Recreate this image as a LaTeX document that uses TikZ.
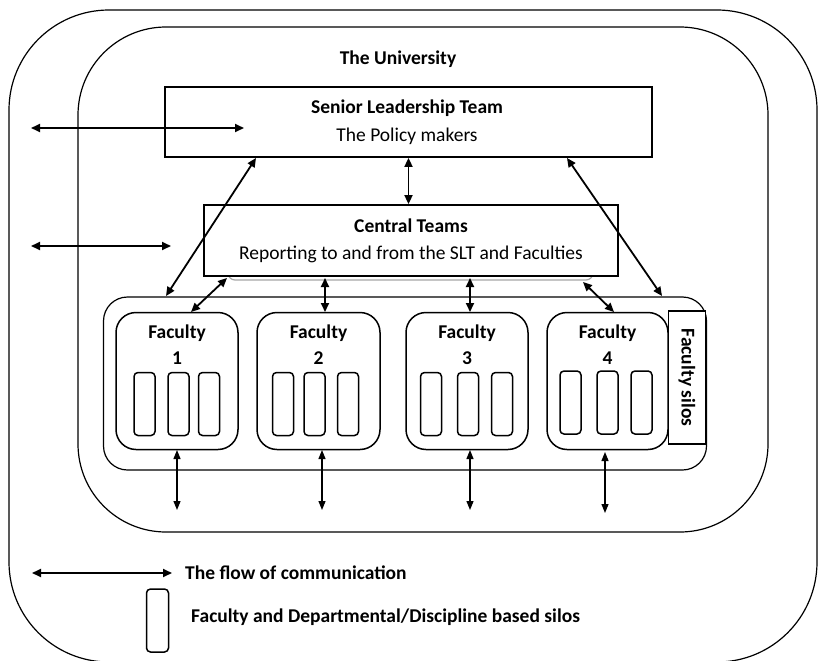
\documentclass[tikz,border=0pt]{standalone}
\usepackage{fontspec}
\setmainfont{Carlito}
\usetikzlibrary{arrows.meta}
\begin{document}
\begin{tikzpicture}[x=1pt,y=-1pt,
  every node/.style={font=\fontsize{19.5}{23}\selectfont},
  txt/.style={inner sep=0pt,anchor=base},
  lbl/.style={txt,font=\fontsize{19.5}{23}\selectfont\bfseries},
  frame/.style={draw,line width=1.2pt},
  teambox/.style={draw,line width=1.8pt,fill=white,inner sep=0pt},
  facbox/.style={draw,line width=1.5pt,rounded corners=20pt,minimum height=137pt,inner sep=0pt},
  silo/.style={draw,line width=1.5pt,rounded corners=4pt,minimum width=21pt,minimum height=63pt,inner sep=0pt},
  flow/.style={line width=1.8pt,{Triangle[length=9pt,width=8pt]}-{Triangle[length=9pt,width=8pt]}},
  thinflow/.style={line width=1.2pt,{Triangle[length=9pt,width=7pt]}-{Triangle[length=9pt,width=7pt]}}]
\useasboundingbox (0,0) rectangle (819,661);

% university boundaries
\draw[frame,rounded corners=100pt] (9,10) rectangle (817,662);
\draw[frame,rounded corners=88pt] (78,27) rectangle (768,532);
\node[lbl] (uni) at (398,65) {The University};

% senior leadership team
\node[teambox,minimum width=487pt,minimum height=70pt] (slt) at (408.5,122) {};
\node[lbl] (sltT) at (407,113.5) {Senior Leadership Team};
\node[txt] (sltS) at (407,141) {The Policy makers};

% central teams with its soft under-edge
\draw[gray!70,line width=1.2pt,rounded corners=7pt,fill=white] (228,262) rectangle (593,280);
\node[teambox,minimum width=414pt,minimum height=71pt] (ct) at (411,240.5) {};
\node[lbl] (ctT) at (411,232) {Central Teams};
\node[txt] (ctS) at (411,259) {Reporting to and from the SLT and Faculties};

% faculty container
\node[frame,rounded corners=24pt,minimum width=603pt,minimum height=173pt,inner sep=0pt] (cont) at (405,383.5) {};

% faculties
\node[facbox,minimum width=122pt] (fac1) at (177,381) {};
\node[facbox,minimum width=123pt] (fac2) at (318.5,381) {};
\node[facbox,minimum width=122pt] (fac3) at (467,381) {};
\node[facbox,minimum width=121pt] (fac4) at (607.5,381) {};
\foreach \n/\cx in {1/177,2/318.5,3/467,4/607.5}{
  \node[lbl] (facT\n) at (\cx,338) {Faculty};
  \node[lbl] (facN\n) at (\cx,364) {\n};
}

% departmental silos
\foreach \n/\a/\b/\c/\cy in {1/144.5/178.5/209/404,2/283/314.5/348/404,3/431/468/502/404,4/570.5/607.5/641.5/402.5}{
  \node[silo] (s\n a) at (\a,\cy) {};
  \node[silo] (s\n b) at (\b,\cy) {};
  \node[silo] (s\n c) at (\c,\cy) {};
}

% faculty silos label
\node[frame,fill=white,minimum width=133pt,minimum height=37pt,inner sep=0pt,rotate=-90,font=\fontsize{19.5}{23}\selectfont\bfseries] (fsil) at (687,377.5) {Faculty silos};

% communication endpoints
\coordinate (outA) at (31,128);  \coordinate (inA) at (244,128);
\coordinate (outB) at (31,246);  \coordinate (inB) at (171,246);
\coordinate (sltL) at (256,158); \coordinate (contL) at (166,296);
\coordinate (sltR) at (567,158); \coordinate (contR) at (662,296);
\coordinate (ct1) at (227,278);  \coordinate (f1) at (191,312);
\coordinate (ct2) at (325,278);  \coordinate (f2) at (325,312);
\coordinate (ct3) at (470,278);  \coordinate (f3) at (470,312);
\coordinate (ct4) at (583,282);  \coordinate (f4) at (614,312);
\coordinate (b1t) at (177,450);  \coordinate (b1) at (177,510);
\coordinate (b2t) at (322,450);  \coordinate (b2) at (322,510);
\coordinate (b3t) at (470,450);  \coordinate (b3) at (470,510);
\coordinate (b4t) at (605,452);  \coordinate (b4) at (605,513);

\draw[flow] (outA) -- (inA);
\draw[flow] (outB) -- (inB);
\draw[flow] (slt.south) -- (slt.south |- ct.north);
\draw[flow] (sltL) -- (contL);
\draw[flow] (sltR) -- (contR);
\draw[flow] (ct1) -- (f1);
\draw[flow] (ct2) -- (f2);
\draw[flow] (ct3) -- (f3);
\draw[flow] (ct4) -- (f4);
\draw[thinflow] (b1t) -- (b1);
\draw[thinflow] (b2t) -- (b2);
\draw[thinflow] (b3t) -- (b3);
\draw[thinflow] (b4t) -- (b4);

% legend
\coordinate (legL) at (32,573); \coordinate (legR) at (172,573);
\draw[flow] (legL) -- (legR);
\node[lbl,anchor=base west] (legFlow) at (185,579) {The flow of communication};
\node[silo,minimum width=22pt,minimum height=63pt] (legSilo) at (157.5,620.5) {};
\node[lbl,anchor=base west] (legSiloT) at (191,622) {Faculty and Departmental/Discipline based silos};
\end{tikzpicture}
\end{document}
